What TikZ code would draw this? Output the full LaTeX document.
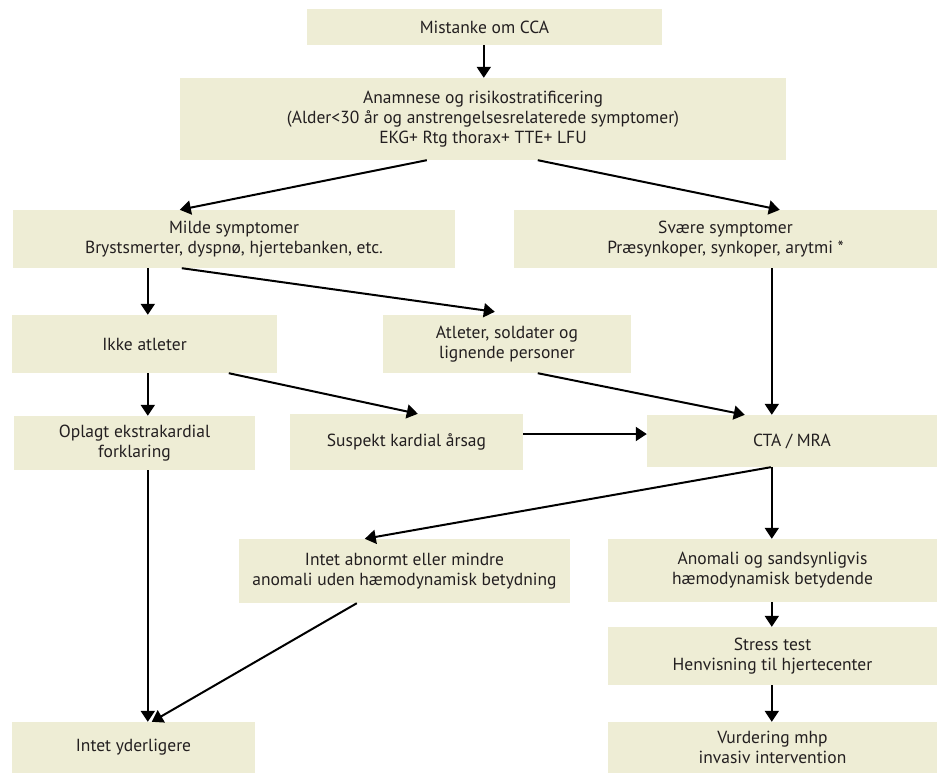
\documentclass[tikz,border=0pt]{standalone}
\usepackage{fontspec}
\setmainfont{PT Sans}
\usetikzlibrary{arrows.meta}
\definecolor{boxfill}{HTML}{EEEDD5}
\definecolor{txt}{HTML}{231F20}
\begin{document}
\begin{tikzpicture}[x=1pt,y=-1pt,
  box/.style={fill=boxfill,draw=none,inner sep=0pt,align=center,text=txt,
    font=\fontsize{17.5}{20}\selectfont},
  arr/.style={line width=2pt,-{Triangle[length=11pt,width=14pt]}}]
\useasboundingbox (0,0) rectangle (937,773);
\node[box,minimum width=355pt,minimum height=36pt] (b1) at (484.5,27) {Mistanke om CCA};
\node[box,minimum width=606pt,minimum height=82pt] (b2) at (483,119) {Anamnese og risikostratificering\\(Alder<30 år og anstrengelsesrelaterede symptomer)\\EKG+ Rtg thorax+ TTE+ LFU};
\node[box,minimum width=442pt,minimum height=58pt] (b3) at (234,239) {Milde symptomer\\Brystsmerter, dyspnø, hjertebanken, etc.};
\node[box,minimum width=423pt,minimum height=58pt] (b4) at (725.5,239) {Svære symptomer\\Præsynkoper, synkoper, arytmi *};
\node[box,minimum width=265pt,minimum height=58pt] (b5) at (144.5,344) {Ikke atleter};
\node[box,minimum width=248pt,minimum height=58pt] (b6) at (507,344) {Atleter, soldater og\\lignende personer};
\node[box,minimum width=241pt,minimum height=54pt] (b7) at (134.5,443) {Oplagt ekstrakardial\\forklaring};
\node[box,minimum width=233pt,minimum height=56pt] (b8) at (406.5,442) {Suspekt kardial årsag};
\node[box,minimum width=290pt,minimum height=52pt] (b9) at (792,441) {CTA / MRA};
\node[box,minimum width=331pt,minimum height=64pt] (b10) at (404.5,571) {Intet abnormt eller mindre\\anomali uden hæmodynamisk betydning};
\node[box,minimum width=329pt,minimum height=63pt] (b11) at (772.5,570.5) {Anomali og sandsynligvis\\hæmodynamisk betydende};
\node[box,minimum width=329pt,minimum height=58pt] (b12) at (772.5,656) {Stress test\\Henvisning til hjertecenter};
\node[box,minimum width=329pt,minimum height=51pt] (b13) at (772.5,747.5) {Vurdering mhp\\invasiv intervention};
\node[box,minimum width=243pt,minimum height=51pt] (b14) at (133.5,747.5) {Intet yderligere};
% connectors
\draw[arr] ([xshift=177pt]b1.south west) -- ([xshift=304pt]b2.north west);
\draw[arr] ([xshift=247pt]b2.south west) -- ([xshift=167pt]b3.north west);
\draw[arr] ([xshift=358pt]b2.south west) -- ([xshift=266pt]b4.north west);
\draw[arr] ([xshift=135pt]b3.south west) -- ([xshift=136pt]b5.north west);
\draw[arr] ([xshift=169pt]b3.south west) -- ([xshift=112pt,yshift=3pt]b6.north west);
\draw[arr] ([xshift=136pt]b5.south west) -- ([xshift=134pt]b7.north west);
\draw[arr] ([xshift=217pt]b5.south west) -- ([xshift=128pt]b8.north west);
\draw[arr] ([yshift=8pt]b8.east) -- ([yshift=7pt]b9.west);
\draw[arr] ([xshift=155pt]b6.south west) -- ([xshift=98pt]b9.north west);
\draw[arr] ([xshift=258pt]b4.south west) -- ([xshift=125pt]b9.north west);
\draw[arr] ([xshift=124pt]b9.south west) -- ([xshift=126pt]b10.north west);
\draw[arr] ([xshift=125pt]b9.south west) -- ([xshift=164pt]b11.north west);
\draw[arr] ([xshift=164pt]b11.south west) -- ([xshift=164pt]b12.north west);
\draw[arr] ([xshift=164pt]b12.south west) -- ([xshift=164pt]b13.north west);
\draw[arr] ([xshift=134pt]b7.south west) -- ([xshift=136pt]b14.north west);
\draw[arr] ([xshift=118pt]b10.south west) -- ([xshift=140pt]b14.north west);
\end{tikzpicture}
\end{document}
